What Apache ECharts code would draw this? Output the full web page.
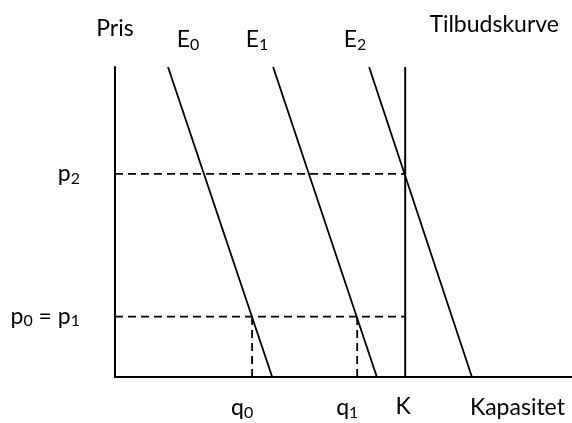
<!DOCTYPE html>
<html>
<head>
<meta charset="utf-8">
<script src="https://cdn.jsdelivr.net/npm/echarts@6/dist/echarts.min.js"></script>
<style>
  html, body { margin: 0; background: #fff; }
  #chart { width: 572px; height: 423px; }
</style>
</head>
<body>
<div id="chart"></div>
<script>
// plot units: quantity 0..100 left to right, price 0..100 bottom to top
const demandNames = ['E0', 'E1', 'E2'];
const demandTopX = [11.6, 34.6, 55.6];   // quantity where each curve leaves the top (price 100)
const demandBaseX = [34.4, 57.3, 78.1];  // quantity at price 0
const capacityK = 63.5;
const priceLevels = [19.5, 65.5];
const priceNames = ['p0 = p1', 'p2'];
const quantityLevels = [30, 53];
const quantityNames = ['q0', 'q1'];

const FONT = 'Lato';
const RICH = {
  m: { fontFamily: FONT, fontSize: 23, color: '#000' },
  s: { fontFamily: FONT, fontSize: 16, color: '#000', padding: [9, 0, 0, 0] },
};
// 'p0 = p1' -> rich string with the digits as subscripts
const sub = (t) => ('{m|' + t.replace(/(\d)/g, '}{s|$1}{m|') + '}').replace(/\{m\|\}/g, '');

const demandOffsets = [[20, -27], [-16, -27], [-14, -27]];
const qOffsets = [[-10, 31], [-10, 31]];

const chart = echarts.init(document.getElementById('chart'));

const solid = { color: '#000', width: 2 };
const dashed = { color: '#000', width: 1.8, type: [8, 5] };
const noSym = { symbol: 'circle', symbolSize: 0, showSymbol: true, silent: true };

const series = [];
demandNames.forEach((n, i) => {
  series.push({
    type: 'line', ...noSym, lineStyle: { ...solid, width: 1.8 },
    data: [
      { value: [demandTopX[i], 100], label: { show: true, position: 'inside', offset: demandOffsets[i], formatter: sub(n), rich: RICH } },
      [demandBaseX[i], 0],
    ],
  });
});
series.push({
  type: 'line', ...noSym, lineStyle: solid,
  data: [
    { value: [capacityK, 100], label: { show: true, position: 'inside', offset: [89, -42], formatter: '{m|Tilbudskurve}', rich: RICH } },
    { value: [capacityK, 0], label: { show: true, position: 'inside', offset: [-2, 30], formatter: '{m|K}', rich: RICH } },
  ],
});
priceLevels.forEach((p) => {
  series.push({ type: 'line', ...noSym, lineStyle: dashed, data: [[0, p], [capacityK, p]] });
});
quantityLevels.forEach((q, i) => {
  series.push({
    type: 'line', ...noSym, lineStyle: dashed,
    data: [
      { value: [q, 0], label: { show: true, position: 'inside', offset: qOffsets[i], formatter: sub(quantityNames[i]), rich: RICH } },
      [q, priceLevels[0]],
    ],
  });
});

chart.setOption({
  animation: false,
  grid: { left: 115, right: 0, top: 67, bottom: 46 },
  xAxis: {
    type: 'value', min: 0, max: 100,
    axisLine: { lineStyle: solid }, axisTick: { show: false }, axisLabel: { show: false }, splitLine: { show: false },
    name: 'Kapasitet', nameLocation: 'end', nameGap: -102,
    nameTextStyle: { fontFamily: FONT, fontSize: 23, color: '#000', verticalAlign: 'top', padding: [19, 0, 0, 0] },
  },
  yAxis: {
    type: 'value', min: 0, max: 100,
    axisLine: { lineStyle: solid }, axisTick: { show: false }, splitLine: { show: false },
    axisLabel: {
      customValues: priceLevels, margin: 35,
      formatter: (v) => sub(priceNames[priceLevels.indexOf(v)]),
      rich: RICH,
    },
    name: 'Pris', nameLocation: 'end', nameGap: 27,
    nameTextStyle: { fontFamily: FONT, fontSize: 23, color: '#000' },
  },
  series,
});
</script>
</body>
</html>
